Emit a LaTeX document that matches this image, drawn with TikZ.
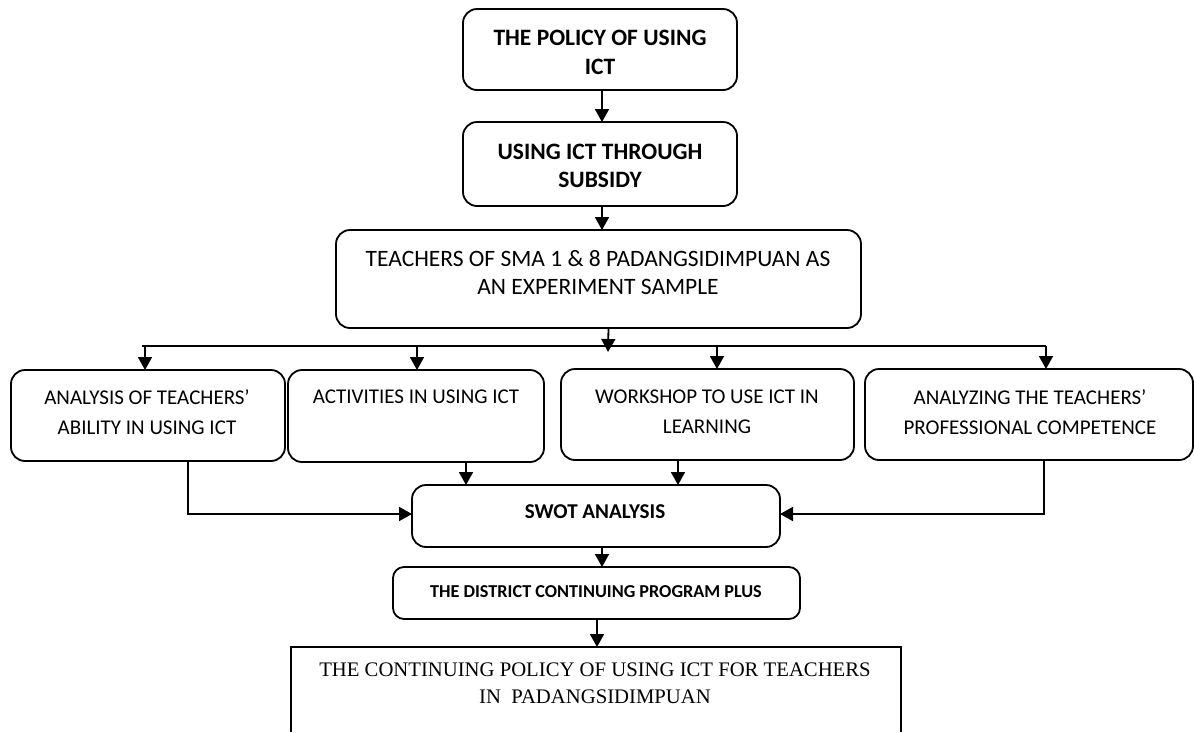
\documentclass[tikz,border=0pt]{standalone}
\usepackage{fontspec}
\setmainfont{Carlito}
\newfontfamily\tnr{Liberation Serif}
\usetikzlibrary{arrows.meta}
\begin{document}
\begin{tikzpicture}[x=1pt,y=-1pt,
  box/.style={draw, line width=1.8pt, rounded corners=14pt, inner sep=0pt, outer sep=0pt},
  txt/.style={align=center, inner sep=0pt},
  arr/.style={line width=1.8pt, -{Triangle[length=13pt,width=14pt]}},
  ln/.style={line width=1.8pt}]
\useasboundingbox (0,0) rectangle (1194,732);
% boxes
\node[box, minimum width=274pt, minimum height=81pt] (b1) at (600,49.5) {};
\node[box, minimum width=274pt, minimum height=84pt] (b2) at (600,164) {};
\node[box, minimum width=525pt, minimum height=98pt] (b3) at (598.5,279) {};
\node[box, minimum width=274pt, minimum height=91pt] (bA) at (148,415.5) {};
\node[box, minimum width=256pt, minimum height=92pt] (bB) at (416,416) {};
\node[box, minimum width=293pt, minimum height=91pt] (bC) at (707.5,414.5) {};
\node[box, minimum width=328pt, minimum height=91pt] (bD) at (1029,414.5) {};
\node[box, minimum width=368pt, minimum height=62pt] (sw) at (596,516) {};
\node[box, rounded corners=11pt, minimum width=407pt, minimum height=52pt] (dc) at (596.5,593) {};
\node[inner sep=0pt, outer sep=0pt, minimum width=610pt, minimum height=85pt] (bot) at (596,689.5) {};
\draw[line width=1.5pt] (bot.south west) -- (bot.north west) -- (bot.north east) -- (bot.south east);
% texts
\node[txt, font=\bfseries\fontsize{23.5}{29}\selectfont] (t1) at (600,52.5) {THE POLICY OF USING\\ICT};
\node[txt, font=\bfseries\fontsize{23.5}{28}\selectfont] (t2) at (600,166) {USING ICT THROUGH\\SUBSIDY};
\node[txt, font=\fontsize{23.5}{28}\selectfont] (t3) at (598,273) {TEACHERS OF SMA 1 \& 8 PADANGSIDIMPUAN AS\\AN EXPERIMENT SAMPLE};
\node[txt, font=\fontsize{21}{30}\selectfont] (tA) at (147,412) {ANALYSIS OF TEACHERS’\\ABILITY IN USING ICT};
\node[txt, font=\fontsize{21}{30}\selectfont] (tB) at (416,397) {ACTIVITIES IN USING ICT};
\node[txt, font=\fontsize{21}{30}\selectfont] (tC) at (707,412) {WORKSHOP TO USE ICT IN\\LEARNING};
\node[txt, font=\fontsize{21}{30}\selectfont] (tD) at (1030,412) {ANALYZING THE TEACHERS’\\PROFESSIONAL COMPETENCE};
\node[txt, font=\bfseries\fontsize{21.1}{25}\selectfont] (tS) at (595,512) {SWOT ANALYSIS};
\node[txt, font=\bfseries\fontsize{18.2}{22}\selectfont] (tDc) at (596,592) {THE DISTRICT CONTINUING PROGRAM PLUS};
\node[txt, font=\tnr\fontsize{20.7}{27}\selectfont] (tBot) at (595,683.5) {THE CONTINUING POLICY OF USING ICT FOR TEACHERS\\IN\ \ PADANGSIDIMPUAN};
% connectors
\coordinate (o1) at ([xshift=2pt]b1.south);
\draw[arr] (o1) -- (o1 |- b2.north);
\coordinate (o2) at ([xshift=2pt]b2.south);
\draw[arr] (o2) -- (o2 |- b3.north);
\coordinate (busL) at (142,346);
\coordinate (busR) at (1046,346);
\draw[ln] (busL) -- (busR);
\coordinate (o3) at ([xshift=10pt]b3.south);
\coordinate (busTip) at (608,352);
\draw[arr] (o3) -- (busTip);
\coordinate (iA) at ([xshift=-3pt]bA.north);
\coordinate (iB) at ([xshift=1pt]bB.north);
\coordinate (iC) at ([xshift=9.5pt]bC.north);
\coordinate (iD) at ([xshift=17pt]bD.north);
\draw[arr] (iA |- busL) -- (iA);
\draw[arr] (iB |- busL) -- (iB);
\draw[arr] (iC |- busL) -- (iC);
\draw[arr] (iD |- busL) -- (iD);
\coordinate (oA) at ([xshift=40pt]bA.south);
\coordinate (oB) at ([xshift=50pt]bB.south);
\coordinate (oC) at ([xshift=-29.5pt]bC.south);
\coordinate (oD) at ([xshift=15pt]bD.south);
\coordinate (swL) at ([yshift=2pt]sw.west);
\coordinate (swR) at ([yshift=2pt]sw.east);
\draw[arr] (oA) |- (swL);
\draw[arr] (oB) -- (oB |- sw.north);
\draw[arr] (oC) -- (oC |- sw.north);
\draw[arr] (oD) |- (swR);
\coordinate (oS) at ([xshift=6pt]sw.south);
\draw[arr] (oS) -- (oS |- dc.north);
\coordinate (oDc) at ([xshift=0.5pt]dc.south);
\draw[arr] (oDc) -- (oDc |- bot.north);
\end{tikzpicture}
\end{document}
